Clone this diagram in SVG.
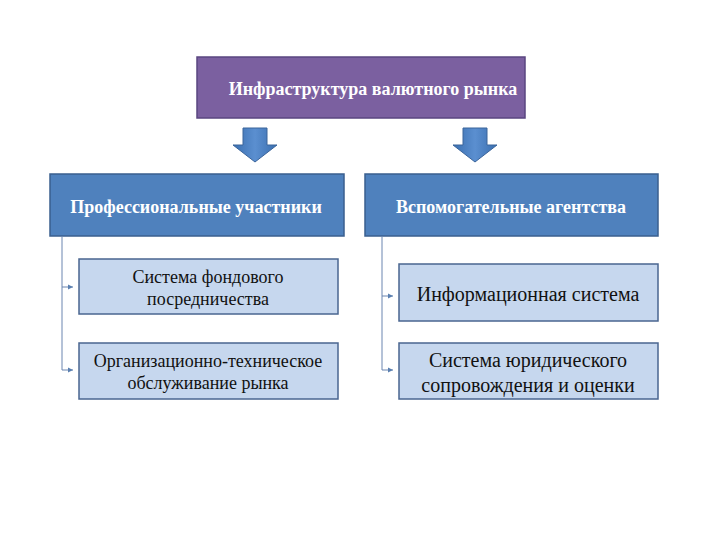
<svg xmlns="http://www.w3.org/2000/svg" width="720" height="540" viewBox="0 0 720 540">
<defs>
<linearGradient id="ag" x1="0" y1="0" x2="1" y2="0">
<stop offset="0" stop-color="#3a6fb0"/><stop offset="0.5" stop-color="#5b8fd0"/><stop offset="1" stop-color="#3a6fb0"/>
</linearGradient>
<marker id="m" markerWidth="6" markerHeight="6" refX="5" refY="3" orient="auto" markerUnits="userSpaceOnUse">
<path d="M0,0.5 L5,3 L0,5.5 z" fill="#5a7fb0"/>
</marker>
<style>
.top{fill:#7b60a0;stroke:#5a4680;stroke-width:1.5}
.hdr{fill:#4f81bd;stroke:#3a5f8f;stroke-width:1.5}
.sub{fill:#c6d7ee;stroke:#4a6690;stroke-width:1.5}
.wt{font-family:"Liberation Serif",serif;font-weight:bold;fill:#fff;font-size:18px;text-anchor:middle}
.bt{font-family:"Liberation Serif",serif;fill:#111;text-anchor:middle}
.ln{stroke:#6a85b0;stroke-width:1;fill:none}
.ar{fill:url(#ag);stroke:#3a649a;stroke-width:1}
</style>
</defs>
<rect width="720" height="540" fill="#fff"/>
<g id="n-top"><rect class="top" x="197" y="57" width="328" height="61"/>
<text class="wt" x="373" y="95" font-size="19">Инфраструктура валютного рынка</text></g>
<g id="arrows">
<path class="ar" d="M243,128 H267 V145 H277 L255,162 L233,145 H243 Z"/>
<path class="ar" d="M463,128 H487 V145 H497 L475,162 L453,145 H463 Z"/>
</g>
<g id="n-prof"><rect class="hdr" x="50" y="174" width="294" height="62"/>
<text class="wt" x="196" y="213">Профессиональные участники</text></g>
<g id="n-aux"><rect class="hdr" x="365" y="174" width="293" height="62"/>
<text class="wt" x="511" y="213">Вспомогательные агентства</text></g>
<g id="n-s1"><rect class="sub" x="79" y="259" width="259" height="55"/>
<text class="bt" x="208" y="283" font-size="18">Система фондового</text>
<text class="bt" x="208" y="305" font-size="18">посредничества</text></g>
<g id="n-s2"><rect class="sub" x="79" y="343" width="259" height="56"/>
<text class="bt" x="208" y="367" font-size="18">Организационно-техническое</text>
<text class="bt" x="208" y="389" font-size="18">обслуживание рынка</text></g>
<g id="n-s3"><rect class="sub" x="399" y="264" width="259" height="57"/>
<text class="bt" x="528" y="301" font-size="20">Информационная система</text></g>
<g id="n-s4"><rect class="sub" x="399" y="343" width="259" height="56"/>
<text class="bt" x="528" y="367" font-size="20">Система юридического</text>
<text class="bt" x="528" y="392" font-size="20">сопровождения и оценки</text></g>
<g id="connectors">
<path class="ln" d="M62,236 V370"/>
<path class="ln" d="M62,287 H73" marker-end="url(#m)"/>
<path class="ln" d="M62,370 H73" marker-end="url(#m)"/>
<path class="ln" d="M382,236 V370"/>
<path class="ln" d="M382,296 H393" marker-end="url(#m)"/>
<path class="ln" d="M382,370 H393" marker-end="url(#m)"/>
</g>
</svg>
